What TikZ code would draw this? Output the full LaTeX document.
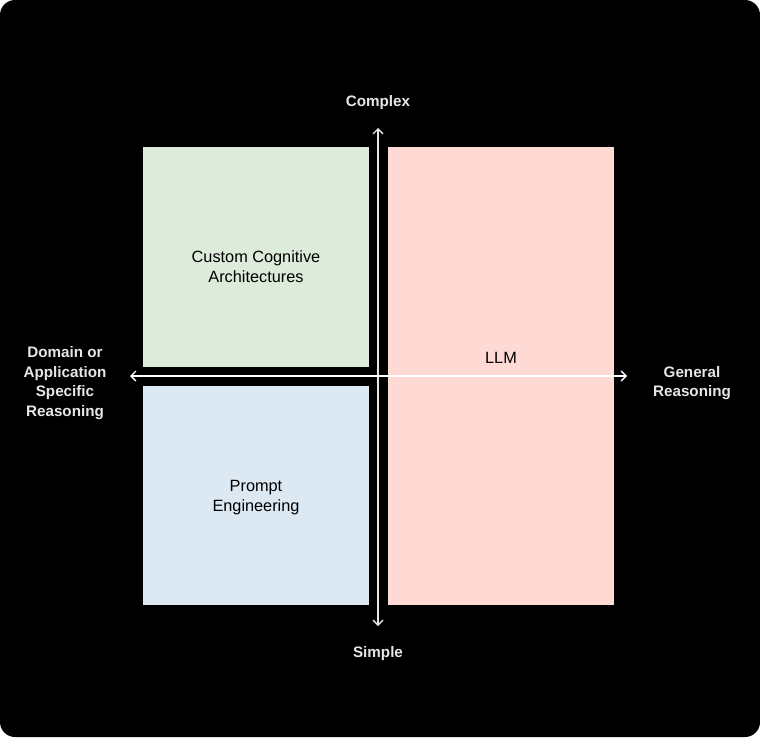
\documentclass[tikz,border=0pt]{standalone}
\usepackage{fontspec}
\setmainfont{Liberation Sans}
\usetikzlibrary{arrows.meta}
\definecolor{gbox}{HTML}{DDEBDA}
\definecolor{bbox}{HTML}{DCE9F3}
\definecolor{pbox}{HTML}{FFDAD5}
\definecolor{axis}{HTML}{E6E6E6}
\begin{document}
\begin{tikzpicture}[x=1pt,y=-1pt,
  quad/.style={draw=none,inner sep=0pt},
  boxtxt/.style={font=\fontsize{16.3}{20}\selectfont,align=center,text=black},
  axtxt/.style={font=\fontsize{15.2}{19.7}\selectfont\bfseries,align=center,text=axis},
  axarrow/.style={draw=axis,line width=1.6pt,{Straight Barb[length=5pt,width=10pt,line width=1.3pt]}-{Straight Barb[length=5pt,width=10pt,line width=1.3pt]}}]
\useasboundingbox (0,0) rectangle (760,737);
\fill[white] (0,0) rectangle (760,737);
\fill[black,rounded corners=15pt] (0,0) rectangle (760,737);
\fill[gbox] (143,147) rectangle (369,367);
\node[quad] (green) at (256,257) {};
\fill[bbox] (143,386) rectangle (369,605);
\node[quad] (blue) at (256,496) {};
\fill[pbox] (388,147) rectangle (614,605);
\node[quad] (pink) at (501,376) {};
\coordinate (top) at (378,128);
\coordinate (bot) at (378,626);
\coordinate (left) at (130,376);
\coordinate (right) at (627,376);
\draw[axarrow] (bot) -- (top);
\draw[axarrow,draw=white] (left) -- (right);
\node[boxtxt] (cca) at (256,267) {Custom Cognitive\\Architectures};
\node[boxtxt] (pe) at (256,498) {Prompt\\Engineering};
\node[boxtxt] (llm) at (501,358) {LLM};
\node[axtxt] (complex) at (378,103) {Complex};
\node[axtxt] (simple) at (378,654) {Simple};
\node[axtxt] (domain) at (65,383) {Domain or\\Application\\Specific\\Reasoning};
\node[axtxt] (general) at (692,383) {General\\Reasoning};
\end{tikzpicture}
\end{document}
